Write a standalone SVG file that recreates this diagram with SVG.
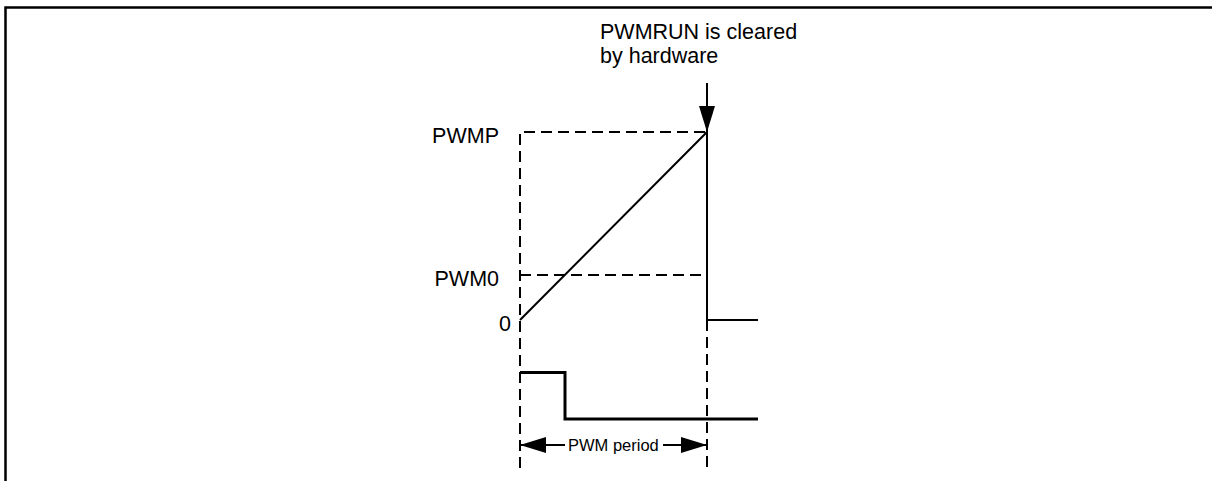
<svg xmlns="http://www.w3.org/2000/svg" width="1213" height="481" viewBox="0 0 1213 481">
<style>
  text { font-family: "Liberation Sans", Arial, sans-serif; fill: #000; }
  .lbl { font-size: 21.5px; }
  .small { font-size: 16.5px; }
  .dash { stroke: #000; stroke-width: 2; fill: none; stroke-dasharray: 11 6; }
  .solid { stroke: #000; stroke-width: 2; fill: none; }
  .thick { stroke: #000; stroke-width: 3; fill: none; }
</style>
<defs>
  <marker id="ah" viewBox="0 0 26 16" refX="26" refY="8" markerWidth="26" markerHeight="16" markerUnits="userSpaceOnUse" orient="auto">
    <path d="M0,0 L26,8 L0,16 Z" fill="#000"/>
  </marker>
</defs>
<g id="frame">
  <path d="M5.5,481 L5.5,7.5 L1212,7.5" stroke="#000" stroke-width="2.5" fill="none"/>
</g>
<g id="labels">
  <text class="lbl" x="600" y="39">PWMRUN is cleared</text>
  <text class="lbl" x="600" y="63">by hardware</text>
  <text class="lbl" x="499" y="143" text-anchor="end">PWMP</text>
  <text class="lbl" x="499" y="286" text-anchor="end">PWM0</text>
  <text class="lbl" x="511" y="331" text-anchor="end">0</text>
  <text class="small" x="568" y="451">PWM period</text>
</g>
<g id="connectors">
  <path class="dash" d="M520,468 L520,132 L707,132"/>
  <path class="dash" d="M520,275 L707,275"/>
  <path class="dash" d="M707,320 L707,468"/>
  <path class="solid" d="M520,320 L707,132 L707,320 L758,320"/>
  <path class="thick" d="M520,372.5 L565,372.5 L565,419 L758,419"/>
  <line class="solid" x1="707" y1="83" x2="707" y2="132" marker-end="url(#ah)"/>
  <line class="solid" x1="565" y1="445" x2="520" y2="445" marker-end="url(#ah)"/>
  <line class="solid" x1="663" y1="445" x2="707" y2="445" marker-end="url(#ah)"/>
</g>
</svg>
